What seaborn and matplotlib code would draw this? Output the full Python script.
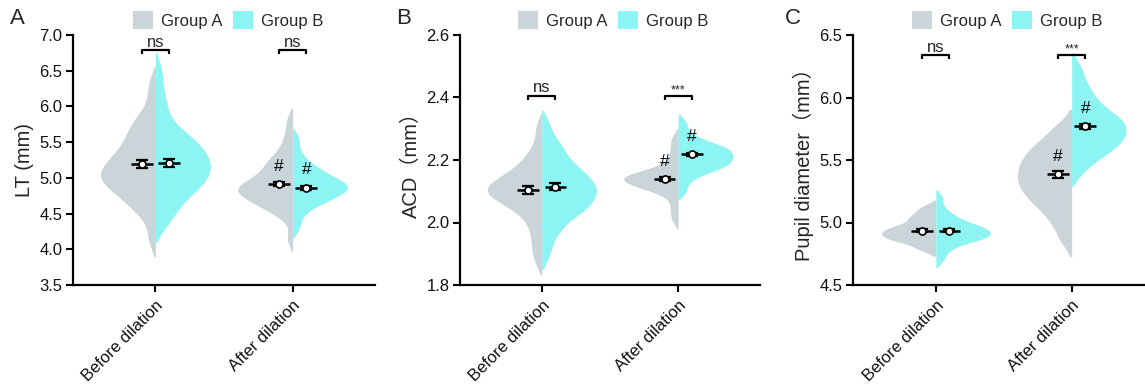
import matplotlib
matplotlib.use("Agg")
import matplotlib.pyplot as plt
import pandas as pd
import seaborn as sns
from matplotlib.patches import Patch
from matplotlib.ticker import FormatStrFormatter

sns.set_theme(style="ticks")
plt.rcParams["font.family"] = ["Liberation Sans", "Noto Sans CJK SC"]

phases = ["Before dilation", "After dilation"]
groups = ["Group A", "Group B"]
palette = {"Group A": "#C9D5D8", "Group B": "#8CF5F3"}

# ---- Lens thickness (mm) ----
lt_before_a = [4.15, 4.45, 4.58, 4.66, 4.73, 4.79, 4.85, 4.90, 4.94, 4.98, 5.01, 5.04,
               5.08, 5.12, 5.16, 5.21, 5.26, 5.31, 5.36, 5.42, 5.50, 5.58, 5.66, 5.74,
               5.82, 6.00, 6.30]
lt_before_b = [4.35, 4.47, 4.58, 4.67, 4.74, 4.80, 4.86, 4.90, 4.94, 4.98, 5.02, 5.06,
               5.10, 5.14, 5.17, 5.21, 5.25, 5.29, 5.33, 5.37, 5.41, 5.46, 5.51, 5.56,
               5.61, 5.70, 5.82, 6.00, 6.20, 6.50]
lt_after_a = [4.15, 4.44, 4.53, 4.58, 4.62, 4.66, 4.69, 4.72, 4.75, 4.78, 4.80, 4.82,
              4.84, 4.86, 4.88, 4.90, 4.93, 4.96, 4.99, 5.03, 5.08, 5.13, 5.18, 5.22,
              5.27, 5.35, 5.45, 5.60, 5.80]
lt_after_b = [4.30, 4.45, 4.56, 4.62, 4.66, 4.69, 4.72, 4.75, 4.78, 4.80, 4.82, 4.84,
              4.86, 4.88, 4.90, 4.92, 4.94, 4.96, 4.99, 5.02, 5.05, 5.09, 5.13, 5.18,
              5.25, 5.37, 5.55]
lt_mean_a = [5.19, 4.91]
lt_mean_b = [5.21, 4.86]
lt_sem_a = [0.053, 0.030]
lt_sem_b = [0.053, 0.025]
lt_sig = ["ns", "ns"]

# ---- Anterior chamber depth (mm) ----
acd_before_a = [1.88, 1.92, 1.96, 1.99, 2.02, 2.04, 2.05, 2.06, 2.07, 2.08, 2.09, 2.095,
                2.10, 2.105, 2.11, 2.115, 2.12, 2.13, 2.14, 2.15, 2.16, 2.17, 2.19, 2.21,
                2.24, 2.30]
acd_before_b = [1.90, 1.95, 1.98, 2.00, 2.02, 2.035, 2.045, 2.05, 2.06, 2.07, 2.08, 2.09,
                2.10, 2.105, 2.11, 2.12, 2.13, 2.14, 2.15, 2.16, 2.17, 2.18, 2.20, 2.22,
                2.24, 2.26, 2.31]
acd_after_a = [2.01, 2.04, 2.07, 2.095, 2.105, 2.11, 2.115, 2.12, 2.125, 2.13, 2.135,
               2.138, 2.14, 2.143, 2.146, 2.15, 2.155, 2.16, 2.165, 2.17, 2.19, 2.21,
               2.24, 2.27]
acd_after_b = [2.10, 2.13, 2.15, 2.16, 2.168, 2.175, 2.18, 2.185, 2.19, 2.195, 2.20,
               2.205, 2.21, 2.215, 2.22, 2.225, 2.23, 2.235, 2.24, 2.245, 2.25, 2.26,
               2.27, 2.29, 2.32]
acd_mean_a = [2.104, 2.139]
acd_mean_b = [2.115, 2.218]
acd_sem_a = [0.013, 0.006]
acd_sem_b = [0.012, 0.006]
acd_sig = ["ns", "***"]

# ---- Pupil diameter (mm) ----
pd_before_a = [4.78, 4.80, 4.83, 4.85, 4.86, 4.87, 4.88, 4.89, 4.90, 4.91, 4.92, 4.93,
               4.94, 4.95, 4.96, 4.97, 4.99, 5.01, 5.03, 5.05, 5.07, 5.10, 5.13]
pd_before_b = [4.70, 4.76, 4.80, 4.83, 4.85, 4.86, 4.87, 4.88, 4.89, 4.90, 4.91, 4.92,
               4.93, 4.94, 4.95, 4.96, 4.97, 4.98, 5.00, 5.02, 5.04, 5.07, 5.12, 5.20]
pd_after_a = [4.85, 4.95, 5.02, 5.08, 5.12, 5.16, 5.19, 5.22, 5.25, 5.28, 5.30, 5.32,
              5.35, 5.38, 5.40, 5.42, 5.45, 5.48, 5.50, 5.53, 5.56, 5.59, 5.62, 5.66,
              5.72, 5.78]
pd_after_b = [5.40, 5.48, 5.52, 5.55, 5.58, 5.61, 5.63, 5.65, 5.67, 5.69, 5.71, 5.73,
              5.75, 5.77, 5.79, 5.81, 5.83, 5.85, 5.87, 5.90, 5.94, 5.98, 6.02, 6.08,
              6.15, 6.25]
pd_mean_a = [4.935, 5.385]
pd_mean_b = [4.935, 5.770]
pd_sem_a = [0.010, 0.027]
pd_sem_b = [0.010, 0.020]
pd_sig = ["ns", "***"]


def long_table(before_a, before_b, after_a, after_b):
    rows = []
    for phase, group, vals in [
        (phases[0], groups[0], before_a), (phases[0], groups[1], before_b),
        (phases[1], groups[0], after_a), (phases[1], groups[1], after_b),
    ]:
        rows += [(phase, group, v) for v in vals]
    return pd.DataFrame(rows, columns=["phase", "group", "value"])


panels = [
    dict(letter="A", ylabel="LT (mm)", ylim=(3.5, 7.0), ystep=0.5, bracket=6.79,
         data=long_table(lt_before_a, lt_before_b, lt_after_a, lt_after_b),
         mean=(lt_mean_a, lt_mean_b), sem=(lt_sem_a, lt_sem_b), sig=lt_sig,
         rect=(73, 302), xlim=(-0.6, 1.6), legend_x=228),
    dict(letter="B", ylabel="ACD（mm）", ylim=(1.8, 2.6), ystep=0.2, bracket=2.405,
         data=long_table(acd_before_a, acd_before_b, acd_after_a, acd_after_b),
         mean=(acd_mean_a, acd_mean_b), sem=(acd_sem_a, acd_sem_b), sig=acd_sig,
         rect=(460, 300), xlim=(-0.6, 1.6), legend_x=613),
    dict(letter="C", ylabel="Pupil diameter（mm）", ylim=(4.5, 6.5), ystep=0.5, bracket=6.34,
         data=long_table(pd_before_a, pd_before_b, pd_after_a, pd_after_b),
         mean=(pd_mean_a, pd_mean_b), sem=(pd_sem_a, pd_sem_b), sig=pd_sig,
         rect=(853, 292), xlim=(-0.61, 1.54), legend_x=1007),
]

W, H = 1145, 384
fig = plt.figure(figsize=(W / 100, H / 100), dpi=100)
letter_x = {"A": 10, "B": 396, "C": 785}
offsets = [-0.1, 0.1]

for p in panels:
    left, width = p["rect"]
    ax = fig.add_axes([left / W, 1 - 285 / H, width / W, 250 / H])
    sns.violinplot(data=p["data"], x="phase", y="value", hue="group",
                   order=phases, hue_order=groups, split=True, inner=None,
                   density_norm="width", width=0.8, palette=palette,
                   saturation=1, linewidth=0, bw_adjust=0.62, cut=1.6,
                   legend=False, ax=ax)

    y0, y1 = p["ylim"]
    px = (y1 - y0) / 250.0  # data units per pixel

    # mean line, SEM caps and open circle for every group
    for j, (means, sems) in enumerate(zip(p["mean"], p["sem"])):
        for i, (m, s) in enumerate(zip(means, sems)):
            x = i + offsets[j]
            ax.hlines(m, x - 0.08, x + 0.08, color="black", lw=1.8, zorder=4)
            ax.errorbar(x, m, yerr=s, fmt="none", ecolor="black", elinewidth=1.3,
                        capsize=4.5, capthick=1.6, zorder=4)
            ax.scatter(x, m, s=26, facecolor="white", edgecolor="black",
                       linewidth=1.2, zorder=5)
            if i == 1:
                ax.annotate("#", (x, m), xytext=(0, 13), textcoords="offset points",
                            ha="center", va="center", fontsize=12.5, color="black")

    # significance brackets between groups
    for i, label in enumerate(p["sig"]):
        h = p["bracket"]
        xa, xb = i + offsets[0], i + offsets[1]
        ax.plot([xa, xa, xb, xb], [h - 4 * px, h, h, h - 4 * px], color="black",
                lw=1.6, solid_capstyle="butt", clip_on=False)
        if label == "ns":
            ax.annotate(label, (i, h), xytext=(0, 2.5), textcoords="offset points",
                        ha="center", va="baseline", fontsize=12)
        else:
            ax.annotate(label, (i, h), xytext=(0, 1.5), textcoords="offset points",
                        ha="center", va="baseline", fontsize=9)

    ax.set_xlim(*p["xlim"])
    ax.set_ylim(y0, y1)
    n = int(round((y1 - y0) / p["ystep"]))
    ax.set_yticks([y0 + k * p["ystep"] for k in range(n + 1)])
    ax.yaxis.set_major_formatter(FormatStrFormatter("%.1f"))
    ax.set_xlabel("")
    ax.set_ylabel(p["ylabel"], fontsize=14.5, labelpad=4)
    ax.set_xticks(range(len(phases)))
    ax.set_xticklabels(phases, rotation=45, ha="right", rotation_mode="anchor",
                       fontsize=12)
    ax.tick_params(axis="both", length=5, width=1.5, color="black", labelsize=12,
                   labelcolor="#111111", pad=2.5)
    ax.tick_params(axis="x", pad=4)
    for side in ("top", "right"):
        ax.spines[side].set_visible(False)
    for side in ("left", "bottom"):
        ax.spines[side].set_linewidth(1.6)
        ax.spines[side].set_color("black")

    handles = [Patch(facecolor=palette[g], edgecolor="none") for g in groups]
    fig.legend(handles, groups, loc="center", ncol=2, frameon=False, fontsize=12,
               bbox_to_anchor=(p["legend_x"] / W, 1 - 20 / H),
               handlelength=1.2, handleheight=1.25, handletextpad=0.5,
               columnspacing=0.6, borderpad=0)
    fig.text(letter_x[p["letter"]] / W, 1 - 19 / H, p["letter"], fontsize=16,
             ha="left", va="center")

fig.savefig("out.png", dpi=100)
